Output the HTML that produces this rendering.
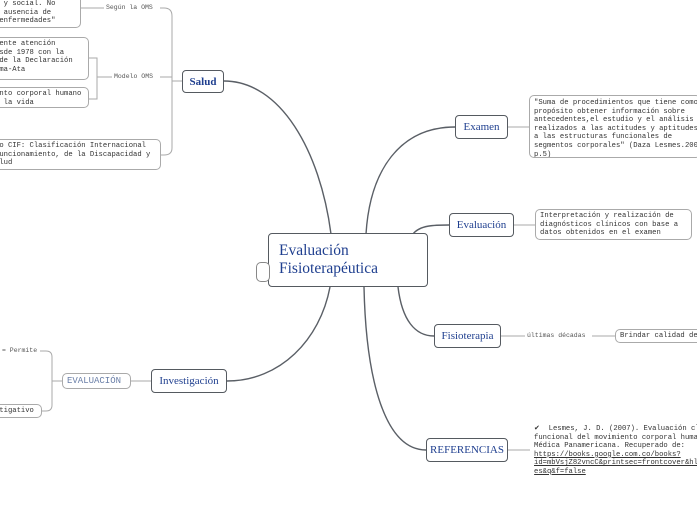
<!DOCTYPE html>
<html><head><meta charset="utf-8"><style>
body{margin:0;width:697px;height:520px;background:#fff;overflow:hidden;position:relative;font-family:"Liberation Serif",serif}
.b{position:absolute;box-sizing:border-box;border:1.5px solid #555a60;border-radius:4px;background:#fff;color:#1f3f8f;display:flex;align-items:center;justify-content:center;font-size:11px;white-space:nowrap}
.n{position:absolute;box-sizing:border-box;border:1px solid #aaa;border-radius:5px;background:#fff;font-family:"Liberation Mono",monospace;font-size:7.2px;line-height:8.6px;color:#333;padding:2px 4px;white-space:nowrap;overflow:hidden}
.l{position:absolute;font-family:"Liberation Mono",monospace;font-size:6.5px;color:#555;background:#fff;padding:0 2px;white-space:nowrap}
</style></head><body>
<svg width="697" height="520" style="position:absolute;left:0;top:0" fill="none">
<g stroke="#5a5f66" stroke-width="1.4">
<path d="M331 234 C320 150 280 81 224 81"/>
<path d="M366 234 C370 170 400 127 455 127"/>
<path d="M413 234 C420 225 435 225 449 225"/>
<path d="M398 287 C402 320 415 336 434 336"/>
<path d="M364 287 C366 380 385 450 426 450"/>
<path d="M330 287 C320 340 280 381 227 381"/>
</g>
<g stroke="#aaa" stroke-width="1">
<path d="M182 81 H172"/>
<path d="M172 81 V16 Q172 8 164 8 H160"/>
<path d="M172 81 V148 Q172 155 164 155 H161"/>
<path d="M172 77 H160"/>
<path d="M81 8 H105"/><path d="M89 58 H97 V99 H89"/><path d="M97 77 H112"/>
<path d="M508 127 H529"/><path d="M514 225 H535"/>
<path d="M501 336 H525"/><path d="M592 336 H615"/>
<path d="M508 450 H530"/>
<path d="M151 381 H131"/><path d="M62 381 H52"/>
<path d="M52 381 V357 Q52 351 46 351 H40"/><path d="M52 381 V405 Q52 411 46 411 H42"/>
</g>
</svg>
<div class="b" style="left:268px;top:233px;width:160px;height:54px;font-size:15.5px;justify-content:flex-start;padding-left:10px;line-height:18px;white-space:normal">Evaluación<br>Fisioterapéutica</div>
<div class="n" style="left:256px;top:262px;width:14px;height:20px;border-color:#888"></div>
<div class="b" style="left:182px;top:70px;width:42px;height:23px;font-weight:bold">Salud</div>
<div class="b" style="left:455px;top:115px;width:53px;height:24px">Examen</div>
<div class="b" style="left:449px;top:213px;width:65px;height:24px">Evaluación</div>
<div class="b" style="left:434px;top:324px;width:67px;height:24px">Fisioterapia</div>
<div class="b" style="left:426px;top:438px;width:82px;height:24px">REFERENCIAS</div>
<div class="b" style="left:151px;top:369px;width:76px;height:24px">Investigación</div>
<div class="n" style="left:62px;top:373px;width:69px;height:16px;font-size:9px;color:#6a7fa8;line-height:10px">EVALUACIÓN</div>
<div class="n" style="left:529px;top:95px;width:172px;height:63px;padding-top:3px">"Suma de procedimientos que tiene como<br>propósito obtener información sobre<br>antecedentes,el estudio y el análisis<br>realizados a las actitudes y aptitudes y<br>a las estructuras funcionales de<br>segmentos corporales" (Daza Lesmes.2007<br>p.5)</div>
<div class="n" style="left:535px;top:209px;width:157px;height:31px">Interpretación y realización de<br>diagnósticos clínicos con base a<br>datos obtenidos en el examen</div>
<div class="l" style="left:525px;top:332px">últimas décadas</div>
<div class="n" style="left:615px;top:329px;width:90px;height:14px;line-height:8px">Brindar calidad de</div>
<div class="n" style="left:530px;top:423px;width:180px;height:52px;border:none">✔ &nbsp;Lesmes, J. D. (2007). Evaluación clínica<br>funcional del movimiento corporal humano<br>Médica Panamericana. Recuperado de:<br><u>https://books.google.com.co/books?</u><br><u>id=mbVsjZ82vncC&amp;printsec=frontcover&amp;hl=</u><br><u>es&amp;q&amp;f=false</u></div>
<div class="l" style="left:104px;top:4px">Según la OMS</div>
<div class="l" style="left:112px;top:73px">Modelo OMS</div>
<div class="n" style="left:-10px;top:-6px;width:91px;height:34px;padding-top:5px">l y social. No<br>a ausencia de<br>&nbsp;enfermedades"</div>
<div class="n" style="left:-10px;top:37px;width:99px;height:43px">mente atención<br>esde 1978 con la<br>&nbsp;de la Declaración<br>lma-Ata</div>
<div class="n" style="left:-10px;top:87px;width:99px;height:21px">ento corporal humano<br>e la vida</div>
<div class="n" style="left:-10px;top:139px;width:171px;height:31px">lo CIF: Clasificación Internacional<br>funcionamiento, de la Discapacidad y<br>alud</div>
<div class="l" style="left:0px;top:347px">= Permite</div>
<div class="n" style="left:-10px;top:404px;width:52px;height:14px;line-height:8px">stigativo</div>
</body></html>
